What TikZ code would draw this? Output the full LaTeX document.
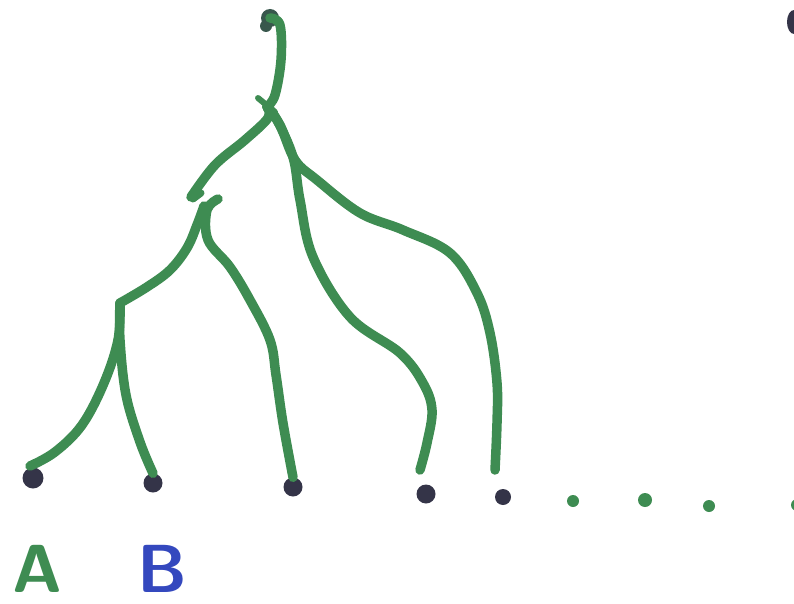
\documentclass[tikz,border=0pt]{standalone}
\usetikzlibrary{calc}
\definecolor{pen}{RGB}{62,140,82}
\definecolor{ink}{RGB}{52,52,72}
\definecolor{blu}{RGB}{52,72,190}
\tikzset{
  branch/.style={draw=pen, line width=9.5pt, line cap=round, line join=round},
  leafdot/.style={circle, fill=ink, inner sep=0pt, minimum size=19pt},
  gdot/.style={circle, fill=pen, inner sep=0pt, minimum size=12pt},
  letter/.style={font=\sffamily\bfseries\fontsize{68}{68}\selectfont, inner sep=0pt, anchor=base}
}
\begin{document}
\begin{tikzpicture}[x=1pt,y=-1pt]
\useasboundingbox (0,0) rectangle (794,604);
% named points
\coordinate (root) at (270,18);
\coordinate (j0) at (267,107);
\coordinate (jl) at (204,206);
\coordinate (ja) at (120,303);
% leaf dots
\node[leafdot, minimum size=21pt] (l1) at (33,478) {};
\node[leafdot] (l2) at (153,483) {};
\node[leafdot] (l3) at (293,487) {};
\node[leafdot] (l4) at (426,494) {};
\node[leafdot, minimum size=16pt] (l5) at (503,497) {};
\node[gdot] (g1) at (573,501) {};
\node[gdot, minimum size=14pt] (g2) at (645,500) {};
\node[gdot] (g3) at (709,506) {};
\node[gdot] (g4) at (797,505) {};
% root blob
\fill[ink!60!pen] (root) circle (9pt);
\fill[ink!60!pen] ($(root)+(-4,8)$) circle (6pt);
% trunk
\draw[branch] plot[smooth, tension=0.6] coordinates {(root) (280,25) (281,60) (275,95) (j0)};
\draw[branch, line width=6pt] (258,98) -- (275,112);
% left branch to gap
\draw[branch] plot[smooth, tension=0.6] coordinates {(j0) (268,118) (245,140) (215,165) (191,197)};
\draw[branch, line width=7pt] (193,199) -- (201,193);
% left sub-branch
\draw[branch] plot[smooth, tension=0.6] coordinates {(jl) (197,225) (187,248) (170,270) (147,287) (ja)};
\draw[branch] plot[smooth, tension=0.6] coordinates {(ja) (118,340) (104,383) (82,425) (55,452) (30,466)};
\draw[branch] plot[smooth, tension=0.6] coordinates {(ja) (120,340) (126,395) (140,442) (l2.north)};
% right leg
\draw[branch] plot[smooth, tension=0.6] coordinates {(218,199) (207,210) (208,240) (230,267) (250,300) (270,340) (276,375) (283,423) (l3.north)};
% middle branch
\draw[branch] plot[smooth, tension=0.6] coordinates {(j0) (277,120) (293,157) (300,200) (313,257) (350,317) (400,353) (423,383) (432,410) (427,443) (420,470)};
% right branch
\draw[branch] plot[smooth, tension=0.6] coordinates {(j0) (280,125) (295,160) (317,180) (360,213) (403,230) (450,253) (477,293) (490,333) (497,383) (497,423) (495,470)};
% top right mark
\fill[ink] (794,22) ellipse (7pt and 12pt);
% letters
\node[letter, text=pen] (A) at (37,592) {A};
\node[letter, text=blu] (B) at (162,592) {B};
\end{tikzpicture}
\end{document}
